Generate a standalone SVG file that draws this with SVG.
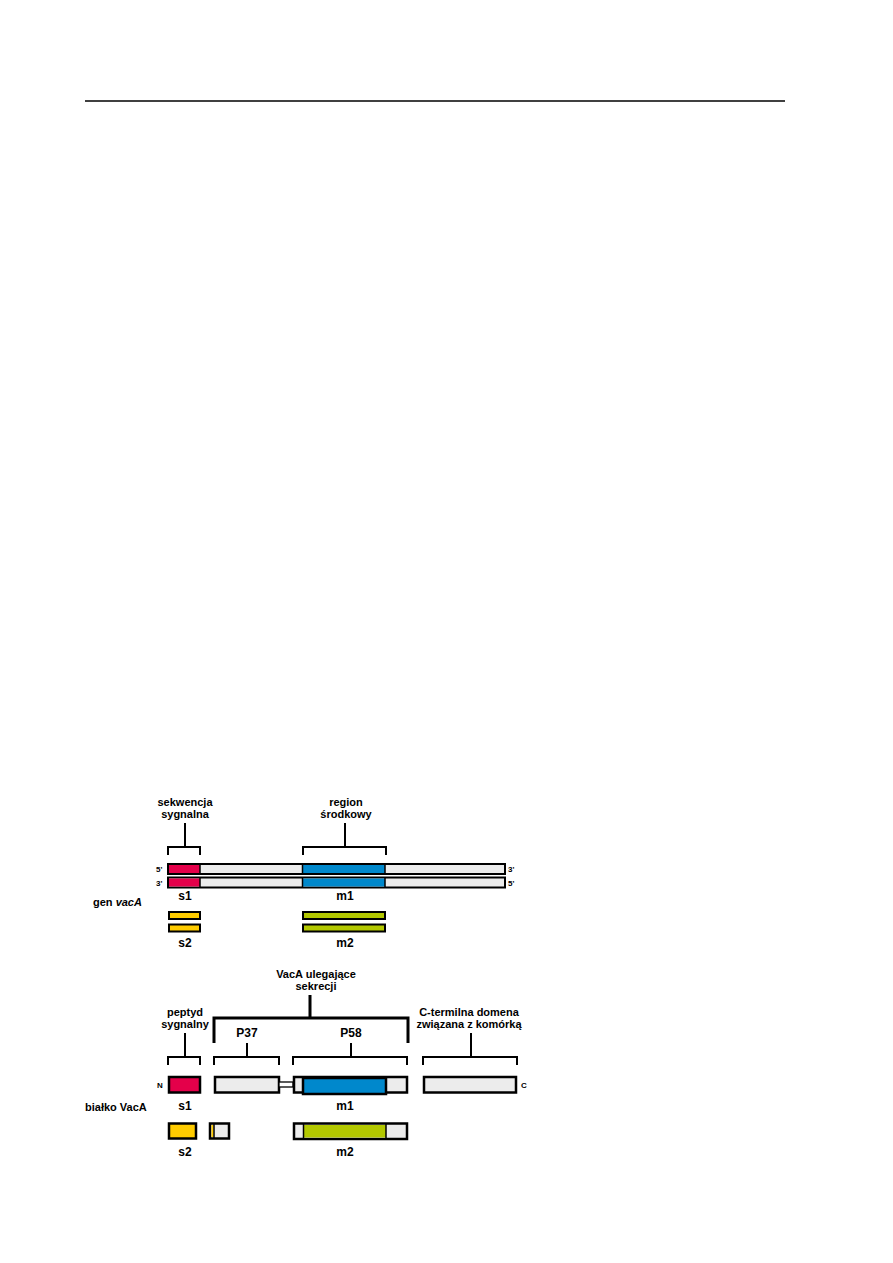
<svg xmlns="http://www.w3.org/2000/svg" width="893" height="1263" viewBox="0 0 893 1263">
<style>
text{font-family:"Liberation Sans",Arial,sans-serif;font-weight:bold;fill:#000}
.lbl{font-size:11px;text-anchor:middle}
.seg{font-size:12px;text-anchor:middle}
.tiny{font-size:8px}
.br{fill:none;stroke:#000;stroke-width:2}
.brk{fill:none;stroke:#000;stroke-width:3}
.box{stroke:#000;stroke-width:2}
.pbox{stroke:#000;stroke-width:2.5}
.gray{fill:#ececec}
.red{fill:#e4004a}
.blue{fill:#0088cc}
.yel{fill:#ffcc00}
.grn{fill:#b3c800}
</style>
<line x1="85" y1="101" x2="785" y2="101" stroke="#000" stroke-width="1.3"/>

<g id="connectors">
<path class="br" d="M168,855 V847 H200 V855 M185,847 V823"/>
<path class="br" d="M303,855 V847 H386 V855 M345,847 V823"/>
<path class="brk" d="M214,1043 V1018 H408 V1043 M310,1018 V995"/>
<path class="br" d="M168,1065 V1057 H200 V1065 M185,1057 V1033"/>
<path class="br" d="M214,1065 V1057 H279 V1065 M247,1057 V1043"/>
<path class="br" d="M293,1065 V1057 H407 V1065 M351,1057 V1043"/>
<path class="br" d="M423,1065 V1057 H517 V1065 M471,1057 V1033"/>
</g>

<g id="gene-labels">
<text class="lbl" x="185" y="806">sekwencja</text>
<text class="lbl" x="185" y="818">sygnalna</text>
<text class="lbl" x="346" y="806">region</text>
<text class="lbl" x="346" y="818">środkowy</text>
<text x="93" y="906" font-size="11">gen <tspan font-style="italic">vacA</tspan></text>
</g>

<g id="strand1">
<rect class="box gray" x="168" y="864" width="337" height="10"/>
<rect class="red" x="169" y="865" width="31" height="8"/>
<rect class="blue" x="303" y="865" width="82" height="8"/>
<line x1="200" y1="864" x2="200" y2="874" stroke="#000" stroke-width="1.5"/>
<line x1="302.5" y1="864" x2="302.5" y2="874" stroke="#000" stroke-width="1.5"/>
<line x1="385" y1="864" x2="385" y2="874" stroke="#000" stroke-width="1.5"/>
<text class="tiny" x="156" y="872">5'</text>
<text class="tiny" x="508" y="872">3'</text>
</g>
<g id="strand2">
<rect class="box gray" x="168" y="877.5" width="337" height="10"/>
<rect class="red" x="169" y="878.5" width="31" height="8"/>
<rect class="blue" x="303" y="878.5" width="82" height="8"/>
<line x1="200" y1="877.5" x2="200" y2="887.5" stroke="#000" stroke-width="1.5"/>
<line x1="302.5" y1="877.5" x2="302.5" y2="887.5" stroke="#000" stroke-width="1.5"/>
<line x1="385" y1="877.5" x2="385" y2="887.5" stroke="#000" stroke-width="1.5"/>
<text class="tiny" x="156" y="885.5">3'</text>
<text class="tiny" x="508" y="885.5">5'</text>
</g>
<text class="seg" x="185" y="900">s1</text>
<text class="seg" x="345" y="900">m1</text>

<g id="gene-s2">
<rect class="box yel" x="169" y="912" width="31" height="7"/>
<rect class="box yel" x="169" y="924.5" width="31" height="7"/>
<text class="seg" x="185" y="947">s2</text>
</g>
<g id="gene-m2">
<rect class="box grn" x="303" y="912" width="82" height="7"/>
<rect class="box grn" x="303" y="924.5" width="82" height="7"/>
<text class="seg" x="345" y="947">m2</text>
</g>

<g id="protein-labels">
<text class="lbl" x="316" y="978">VacA ulegające</text>
<text class="lbl" x="316" y="990">sekrecji</text>
<text class="lbl" x="185" y="1016">peptyd</text>
<text class="lbl" x="185" y="1028">sygnalny</text>
<text class="seg" x="247" y="1037">P37</text>
<text class="seg" x="351" y="1037">P58</text>
<text class="lbl" x="469" y="1016">C-termilna domena</text>
<text class="lbl" x="469" y="1028">związana z komórką</text>
<text x="85" y="1111" font-size="11">białko VacA</text>
</g>

<g id="protein-s1">
<rect class="pbox red" x="169" y="1077" width="31" height="15.5"/>
<text class="tiny" x="157" y="1088">N</text>
<text class="seg" x="185" y="1110">s1</text>
</g>
<g id="protein-p37">
<rect class="pbox gray" x="215" y="1077" width="64" height="15.5"/>
</g>
<g id="linker">
<rect x="279" y="1082" width="14" height="5" fill="#fff" stroke="#000" stroke-width="1.3"/>
</g>
<g id="protein-p58">
<rect class="pbox gray" x="294" y="1077" width="113" height="15.5"/>
<rect class="pbox blue" x="303" y="1078" width="83" height="16"/>
<text class="seg" x="345" y="1110">m1</text>
</g>
<g id="protein-cterm">
<rect class="pbox gray" x="424" y="1077" width="92" height="15.5"/>
<text class="tiny" x="521" y="1088">C</text>
</g>

<g id="protein-s2">
<rect class="pbox yel" x="169" y="1123.5" width="27" height="15"/>
<text class="seg" x="185" y="1156">s2</text>
</g>
<g id="protein-p37-s2">
<rect class="pbox gray" x="210" y="1123.5" width="19" height="15"/>
<rect class="yel" x="211.5" y="1125" width="2" height="12"/>
<line x1="214" y1="1124" x2="214" y2="1138" stroke="#000" stroke-width="1.5"/>
</g>
<g id="protein-m2">
<rect class="pbox gray" x="294" y="1123.5" width="113" height="15.5"/>
<rect class="grn" x="304" y="1125" width="82" height="12.5"/>
<line x1="303.5" y1="1123.5" x2="303.5" y2="1139" stroke="#000" stroke-width="1.5"/>
<line x1="386" y1="1123.5" x2="386" y2="1139" stroke="#000" stroke-width="1.5"/>
<text class="seg" x="345" y="1156">m2</text>
</g>
</svg>
